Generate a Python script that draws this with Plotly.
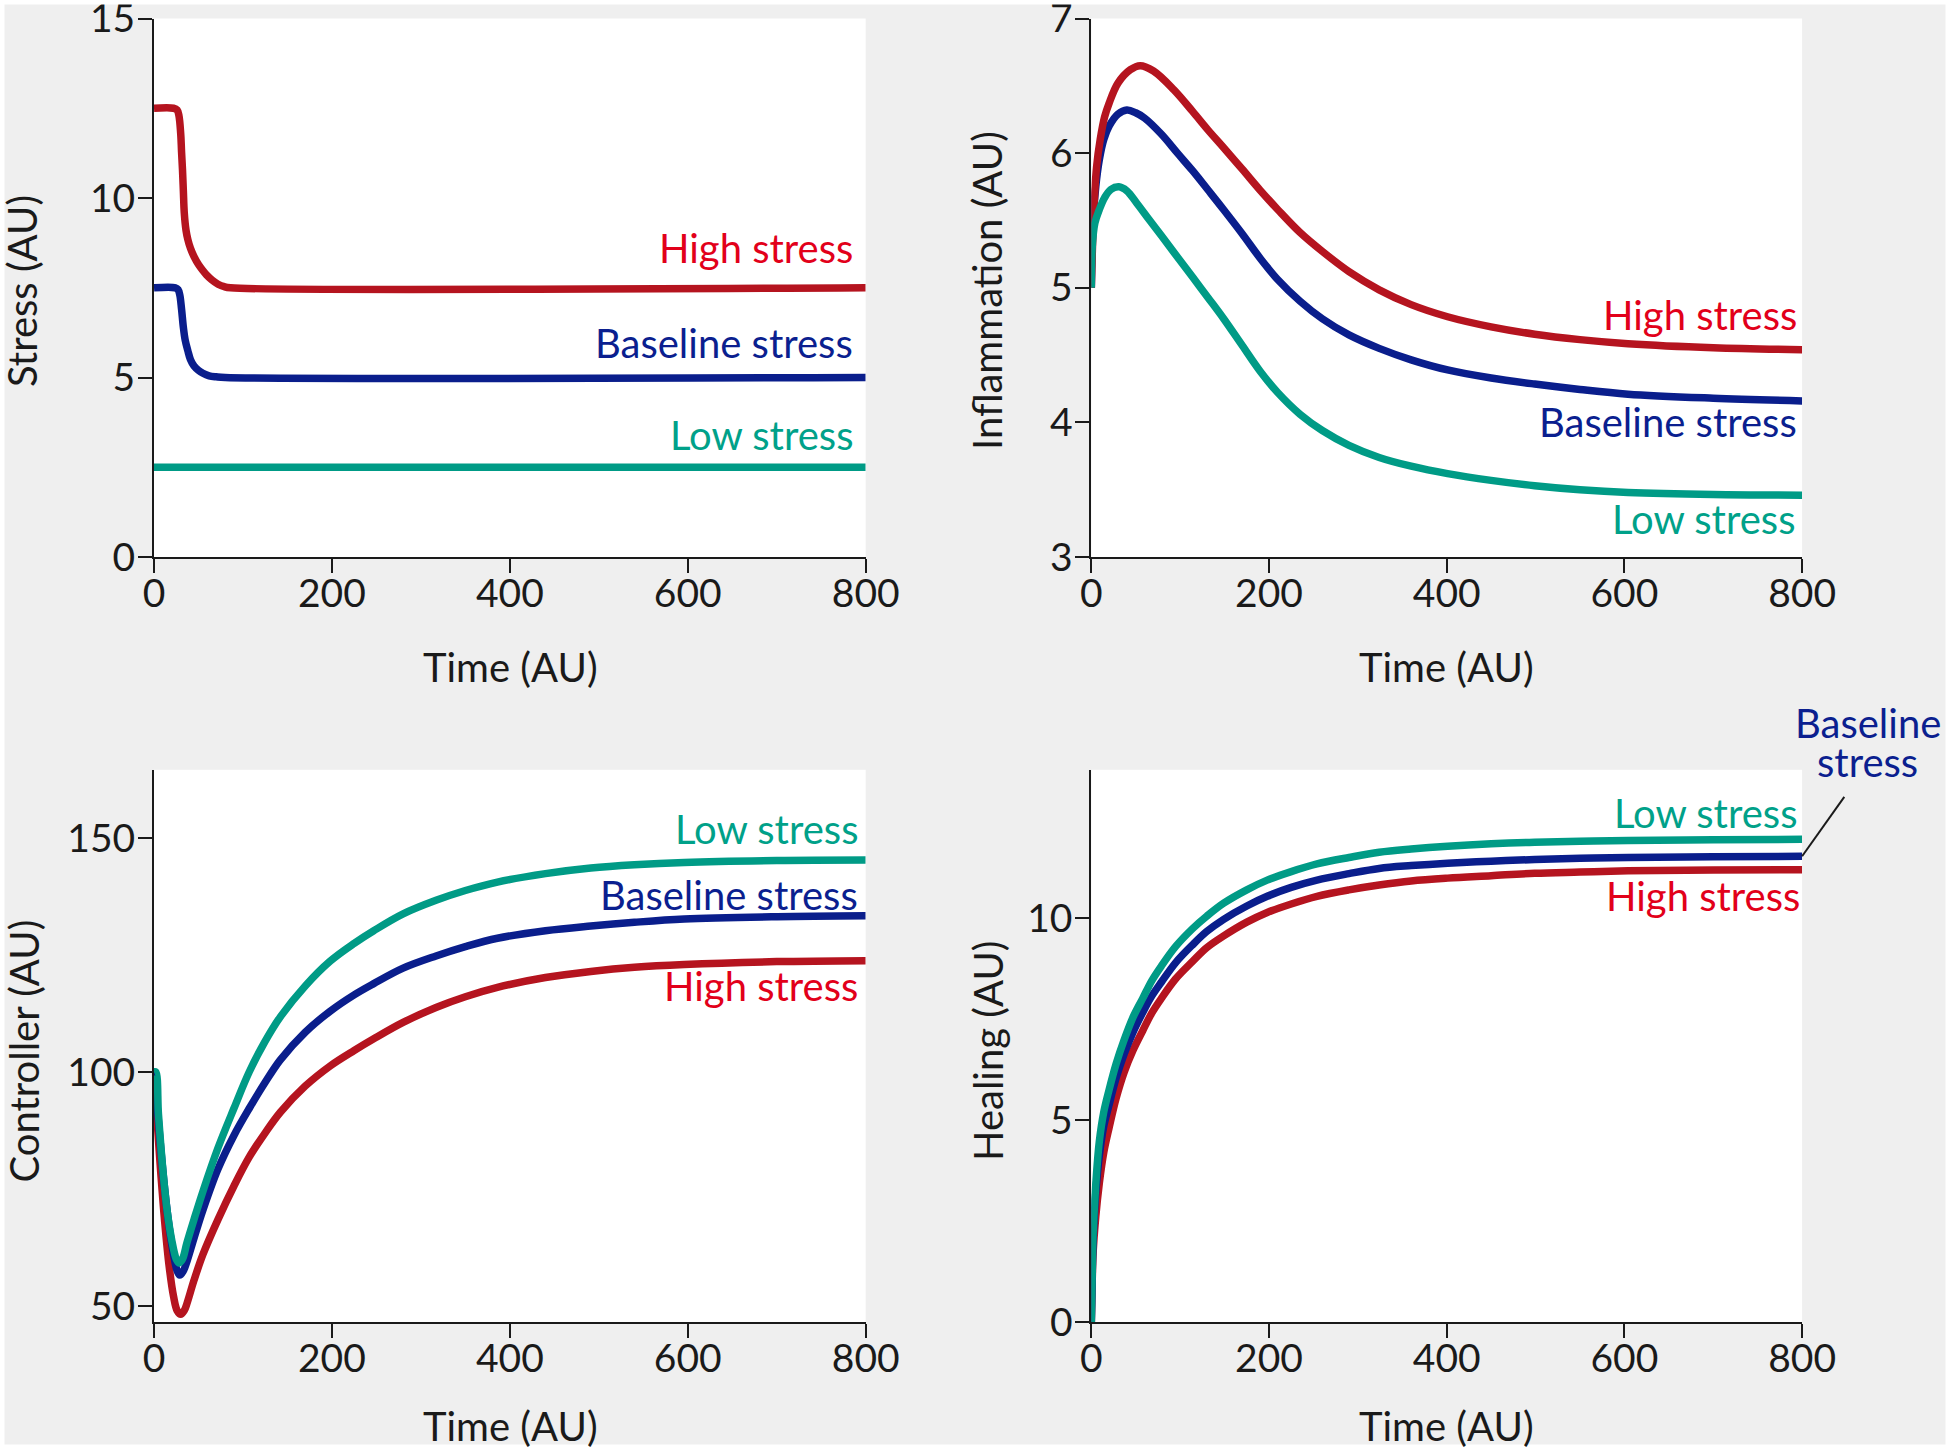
import plotly.graph_objects as go

# ---------------- data ----------------
time_ticks = [0, 200, 400, 600, 800]

# Panel A: Stress
stress_high_t = [0, 22, 26, 28, 30, 31, 32, 33, 34, 36, 38, 41, 45, 50, 55, 59, 65, 72, 79, 86, 800]
stress_high = [12.5, 12.5, 12.45, 12.3, 11.8, 11.27, 10.8, 10.2, 9.6, 9.1, 8.85, 8.6, 8.37, 8.15, 7.98, 7.86, 7.72, 7.6, 7.53, 7.5, 7.5]
stress_base_t = [0, 24, 27, 29, 31, 33, 35, 38, 41, 45, 50, 55, 62, 70, 80, 800]
stress_base = [7.5, 7.5, 7.45, 7.3, 6.9, 6.4, 6.05, 5.75, 5.5, 5.32, 5.2, 5.12, 5.05, 5.02, 5.0, 5.0]
stress_low_t = [0, 800]
stress_low = [2.5, 2.5]
stress_ticks = [0, 5, 10, 15]

# Panel B: Inflammation
infl_high_t = [0, 3, 6, 10, 15, 20, 30, 44, 55, 70, 93, 114, 131, 149, 170, 190, 210, 235, 260, 290, 324, 360, 401, 450, 499, 550, 604, 700, 800]
infl_high = [5.0, 5.6, 5.9, 6.1, 6.27, 6.37, 6.52, 6.62, 6.65, 6.61, 6.47, 6.31, 6.175, 6.04, 5.88, 5.725, 5.58, 5.41, 5.27, 5.12, 4.985, 4.875, 4.785, 4.71, 4.655, 4.615, 4.585, 4.555, 4.54]
infl_base_t = [0, 2, 5, 9, 14, 20, 30, 40, 50, 60, 79, 97, 114, 131, 149, 170, 190, 210, 235, 260, 290, 324, 360, 401, 450, 499, 550, 604, 700, 800]
infl_base = [5.0, 5.5, 5.75, 5.95, 6.1, 6.2, 6.29, 6.32, 6.3, 6.26, 6.14, 6.0, 5.87, 5.73, 5.58, 5.40, 5.22, 5.06, 4.90, 4.77, 4.65, 4.55, 4.465, 4.39, 4.33, 4.285, 4.245, 4.21, 4.18, 4.16]
infl_low_t = [0, 1, 4, 9, 15, 22, 31, 40, 51, 65, 79, 95, 114, 131, 149, 170, 190, 210, 235, 260, 290, 324, 360, 401, 450, 499, 550, 604, 700, 800]
infl_low = [5.0, 5.3, 5.48, 5.58, 5.67, 5.73, 5.75, 5.72, 5.63, 5.507, 5.386, 5.245, 5.08, 4.93, 4.77, 4.57, 4.38, 4.22, 4.06, 3.94, 3.83, 3.74, 3.675, 3.62, 3.57, 3.53, 3.5, 3.48, 3.465, 3.46]
infl_ticks = [3, 4, 5, 6, 7]

# Panel C: Controller
ctrl_t = [0, 3, 7, 12, 17, 22, 26, 30, 34, 37, 45, 55, 72, 90, 107, 125, 142, 170, 198, 225, 247, 280, 317, 350, 386, 440, 491, 540, 596, 700, 800]
ctrl_high = [100, 91, 80, 68, 58.5, 52, 49, 48.2, 49, 50.5, 55.5, 61, 68.5, 75.7, 81.8, 87.0, 91.4, 97.0, 101.3, 104.6, 107.1, 110.6, 113.8, 116.1, 118.1, 120.2, 121.5, 122.4, 123.0, 123.6, 123.8]
ctrl_base_t = [0, 3, 7, 12, 17, 22, 26, 29, 33, 37, 45, 55, 72, 90, 107, 125, 142, 170, 198, 225, 247, 280, 317, 350, 386, 440, 491, 540, 596, 700, 800]
ctrl_base = [100, 94, 85, 75, 67, 61, 57.5, 56.6, 57.5, 59.5, 64.5, 70.5, 79.3, 86.5, 92.2, 97.8, 102.6, 108.5, 113, 116.5, 118.9, 122.2, 124.8, 126.8, 128.6, 130.2, 131.2, 132, 132.7, 133.2, 133.4]
ctrl_low_t = [0, 2, 5, 10, 15, 20, 25, 28, 32, 37, 45, 55, 72, 90, 107, 125, 142, 170, 198, 225, 247, 280, 317, 350, 386, 440, 491, 540, 596, 700, 800]
ctrl_low = [100, 100, 91, 79, 70, 64, 60, 59.2, 60, 63.5, 68.5, 74.5, 83.8, 92.3, 100.0, 106.6, 111.8, 118.4, 123.7, 127.5, 130.2, 133.8, 136.7, 138.8, 140.6, 142.4, 143.6, 144.3, 144.8, 145.2, 145.3]
ctrl_ticks = [50, 100, 150]

# Panel D: Healing
heal_t = [0, 1, 2, 5, 9, 14, 20, 28, 37, 47, 58, 68, 79, 95, 114, 130, 149, 175, 198, 225, 254, 290, 324, 360, 401, 450, 499, 550, 604, 700, 800]
heal_high = [0, 1.0, 1.7, 2.6, 3.44, 4.2, 4.81, 5.55, 6.19, 6.73, 7.22, 7.65, 8.02, 8.5, 8.93, 9.27, 9.56, 9.9, 10.14, 10.35, 10.54, 10.7, 10.82, 10.92, 10.99, 11.05, 11.11, 11.14, 11.17, 11.19, 11.2]
heal_base = [0, 1.1, 2.0, 3.2, 4.12, 4.85, 5.38, 6.05, 6.64, 7.18, 7.67, 8.07, 8.42, 8.9, 9.34, 9.67, 9.97, 10.3, 10.54, 10.76, 10.94, 11.1, 11.23, 11.3, 11.36, 11.41, 11.45, 11.48, 11.5, 11.52, 11.53]
heal_low = [0, 1.2, 2.18, 3.4, 4.47, 5.2, 5.75, 6.4, 6.99, 7.55, 8.02, 8.45, 8.82, 9.3, 9.74, 10.05, 10.37, 10.7, 10.94, 11.15, 11.34, 11.5, 11.63, 11.71, 11.78, 11.84, 11.88, 11.9, 11.92, 11.94, 11.95]
heal_ticks = [0, 5, 10]

# ---------------- style ----------------
W, H = 1950, 1449
FONT = "Lato"
FS = 40
TFS = 39
INK = "#1a1a1a"
BG = "#efefef"
RED_L, RED_T = "#b5141f", "#e2001a"
BLUE_L, BLUE_T = "#0a1e8c", "#0b1f8f"
GREEN_L, GREEN_T = "#009b86", "#00a189"
LW = 7.5

def px_x(p):
    return p / W

def px_y(p):
    return 1 - p / H

dom_x_left = [px_x(154.0), px_x(865.7)]
dom_x_right = [px_x(1091.3), px_x(1802.1)]
dom_y_top = [px_y(557.1), px_y(18.5)]
dom_y_bot = [px_y(1322.3), px_y(769.8)]

X_RANGE = [0, 800]
panels = [
    # (axis suffix, xdomain, ydomain, yrange, yticks)
    ("", dom_x_left, dom_y_top, [0, 15], stress_ticks),
    ("2", dom_x_right, dom_y_top, [3, 7], infl_ticks),
    ("3", dom_x_left, dom_y_bot, [46.5, 164.6], ctrl_ticks),
    ("4", dom_x_right, dom_y_bot, [0, 13.67], heal_ticks),
]

fig = go.Figure()

def add_line(sfx, t, v, color):
    fig.add_trace(go.Scatter(
        x=t, y=v, mode="lines",
        line=dict(color=color, width=LW, shape="spline", smoothing=1.0),
        xaxis="x" + sfx, yaxis="y" + sfx, showlegend=False, hoverinfo="skip",
    ))

add_line("", stress_high_t, stress_high, RED_L)
add_line("", stress_base_t, stress_base, BLUE_L)
add_line("", stress_low_t, stress_low, GREEN_L)

add_line("2", infl_base_t, infl_base, BLUE_L)
add_line("2", infl_high_t, infl_high, RED_L)
add_line("2", infl_low_t, infl_low, GREEN_L)

add_line("3", ctrl_t, ctrl_high, RED_L)
add_line("3", ctrl_base_t, ctrl_base, BLUE_L)
add_line("3", ctrl_low_t, ctrl_low, GREEN_L)

add_line("4", heal_t, heal_high, RED_L)
add_line("4", heal_t, heal_base, BLUE_L)
add_line("4", heal_t, heal_low, GREEN_L)

axis_common = dict(
    showline=True, linecolor=INK, linewidth=2,
    ticks="outside", ticklen=14, tickwidth=2, tickcolor=INK,
    showgrid=False, zeroline=False, ticklabeloverflow="allow",
    tickfont=dict(family=FONT, size=TFS, color=INK), automargin=False,
)

layout = dict(
    width=W, height=H, autosize=False,
    margin=dict(l=0, r=0, t=0, b=0, pad=0),
    paper_bgcolor=BG, plot_bgcolor="white",
    font=dict(family=FONT, size=FS, color=INK),
    showlegend=False, hovermode=False,
)

for sfx, xd, yd, yr, yt in panels:
    layout["xaxis" + sfx] = dict(
        axis_common, domain=xd, range=X_RANGE, tickvals=time_ticks,
        anchor="y" + sfx, ticklabelstandoff=-13,
    )
    layout["yaxis" + sfx] = dict(
        axis_common, domain=yd, range=yr, tickvals=yt,
        anchor="x" + sfx, ticklabelstandoff=-5,
    )

fig.update_layout(**layout)

def note(sfx, x, y, text, color, xanchor="right"):
    fig.add_annotation(
        xref="x" + sfx, yref="y" + sfx, x=x, y=y, text=text,
        showarrow=False, xanchor=xanchor, yanchor="middle",
        font=dict(family=FONT, size=FS, color=color),
    )

def to_paper(xd, yd, yr, x, y):
    px = xd[0] + (x - X_RANGE[0]) / (X_RANGE[1] - X_RANGE[0]) * (xd[1] - xd[0])
    py = yd[0] + (y - yr[0]) / (yr[1] - yr[0]) * (yd[1] - yd[0])
    return px, py

# Curve labels
note("", 788, 8.6, "High stress", RED_T)
note("", 788, 5.97, "Baseline stress", BLUE_T)
note("", 788, 3.4, "Low stress", GREEN_T)

note("2", 796.5, 4.8, "High stress", RED_T)
note("2", 796.5, 4.0, "Baseline stress", BLUE_T)
note("2", 794, 3.28, "Low stress", GREEN_T)

note("3", 793.5, 151.9, "Low stress", GREEN_T)
note("3", 793.5, 137.9, "Baseline stress", BLUE_T)
note("3", 793.5, 118.4, "High stress", RED_T)

note("4", 796.5, 12.61, "Low stress", GREEN_T)
note("4", 800, 10.55, "High stress", RED_T)

# two-line label outside the healing plot area, positioned in paper space
HEAL_YR = [0, 13.67]
for txt, yv in (("Baseline", 14.83), ("stress", 13.87)):
    bx, by = to_paper(dom_x_right, dom_y_bot, HEAL_YR, 874, yv)
    fig.add_annotation(
        xref="paper", yref="paper", x=bx, y=by, text=txt, showarrow=False,
        xanchor="center", yanchor="middle",
        font=dict(family=FONT, size=FS, color=BLUE_T),
    )

# leader line from end of baseline healing curve to its label
lx0, ly0 = to_paper(dom_x_right, dom_y_bot, HEAL_YR, heal_t[-1], heal_base[-1])
lx1, ly1 = to_paper(dom_x_right, dom_y_bot, HEAL_YR, 847.5, 13.0)
fig.add_shape(type="line", xref="paper", yref="paper", x0=lx0, y0=ly0, x1=lx1, y1=ly1,
              line=dict(color=INK, width=2), layer="above")

# thin white frame around the figure
fig.add_shape(type="rect", xref="paper", yref="paper", x0=0, y0=0, x1=1, y1=1,
              line=dict(color="white", width=9), fillcolor="rgba(0,0,0,0)", layer="above")

# Axis titles
def title(x, y, text, angle=0):
    fig.add_annotation(
        xref="paper", yref="paper", x=px_x(x), y=px_y(y), text=text,
        showarrow=False, xanchor="center", yanchor="middle", textangle=angle,
        font=dict(family=FONT, size=FS, color=INK),
    )

title(22, 291, "Stress (AU)", -90)
title(987, 291, "Inflammation (AU)", -90)
title(23.6, 1051, "Controller (AU)", -90)
title(988, 1051, "Healing (AU)", -90)
title(510, 667, "Time (AU)")
title(1446.7, 667, "Time (AU)")
title(510, 1426, "Time (AU)")
title(1446.7, 1426, "Time (AU)")

fig.write_html(
    "out.html",
    config={"displayModeBar": False, "responsive": False, "staticPlot": True},
    post_script="document.body.style.margin='0';document.body.style.overflow='hidden';",
)
